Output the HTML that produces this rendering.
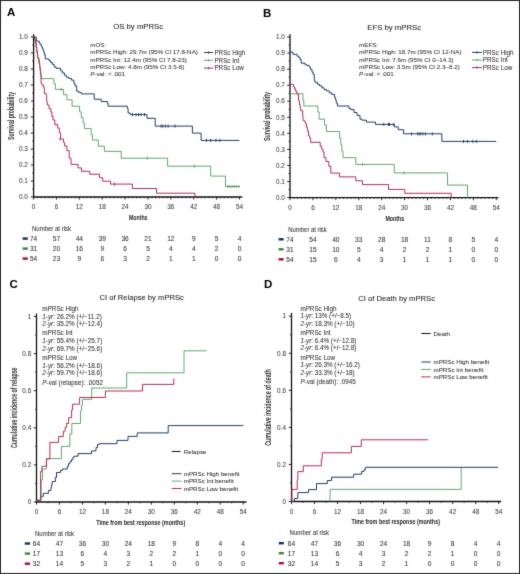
<!DOCTYPE html>
<html><head><meta charset="utf-8"><title>Figure</title>
<style>
html,body{margin:0;padding:0;background:#fff;}
body{width:520px;height:574px;overflow:hidden;}
svg{display:block;transform:translateZ(0);will-change:transform;}
text{font-family:"Liberation Sans", sans-serif;}
</style></head>
<body>
<svg width="520" height="574" viewBox="0 0 520 574" font-family='"Liberation Sans", sans-serif' fill="#333">
<defs><filter id="bl" x="0" y="0" width="520" height="574" filterUnits="userSpaceOnUse" color-interpolation-filters="sRGB"><feConvolveMatrix order="3" kernelMatrix="0.01134 0.08382 0.01134 0.08382 0.61935 0.08382 0.01134 0.08382 0.01134" divisor="1" edgeMode="duplicate"/></filter></defs><rect x="0" y="0" width="520" height="574" fill="#fff"/>
<g filter="url(#bl)">
<rect x="0.5" y="0.5" width="519" height="573" fill="none" stroke="#2a2a2a" stroke-width="1.0"/>
<text x="6.90" y="16.40" font-size="11.5" fill="#000" font-weight="bold">A</text>
<text x="262.90" y="17.00" font-size="11.5" fill="#000" font-weight="bold">B</text>
<text x="9.60" y="287.60" font-size="11.5" fill="#000" font-weight="bold">C</text>
<text x="263.90" y="288.20" font-size="11.5" fill="#000" font-weight="bold">D</text>
<line x1="33.60" y1="34.30" x2="33.60" y2="197.60" stroke="#111" stroke-width="1.3"/>
<line x1="33.00" y1="197.00" x2="242.30" y2="197.00" stroke="#111" stroke-width="1.3"/>
<line x1="30.80" y1="197.00" x2="33.60" y2="197.00" stroke="#111" stroke-width="0.9"/>
<line x1="30.80" y1="181.00" x2="33.60" y2="181.00" stroke="#111" stroke-width="0.9"/>
<line x1="30.80" y1="165.00" x2="33.60" y2="165.00" stroke="#111" stroke-width="0.9"/>
<line x1="30.80" y1="149.00" x2="33.60" y2="149.00" stroke="#111" stroke-width="0.9"/>
<line x1="30.80" y1="133.00" x2="33.60" y2="133.00" stroke="#111" stroke-width="0.9"/>
<line x1="30.80" y1="117.00" x2="33.60" y2="117.00" stroke="#111" stroke-width="0.9"/>
<line x1="30.80" y1="101.00" x2="33.60" y2="101.00" stroke="#111" stroke-width="0.9"/>
<line x1="30.80" y1="85.00" x2="33.60" y2="85.00" stroke="#111" stroke-width="0.9"/>
<line x1="30.80" y1="69.00" x2="33.60" y2="69.00" stroke="#111" stroke-width="0.9"/>
<line x1="30.80" y1="53.00" x2="33.60" y2="53.00" stroke="#111" stroke-width="0.9"/>
<line x1="30.80" y1="37.00" x2="33.60" y2="37.00" stroke="#111" stroke-width="0.9"/>
<line x1="32.20" y1="189.00" x2="33.60" y2="189.00" stroke="#111" stroke-width="0.8"/>
<line x1="32.20" y1="173.00" x2="33.60" y2="173.00" stroke="#111" stroke-width="0.8"/>
<line x1="32.20" y1="157.00" x2="33.60" y2="157.00" stroke="#111" stroke-width="0.8"/>
<line x1="32.20" y1="141.00" x2="33.60" y2="141.00" stroke="#111" stroke-width="0.8"/>
<line x1="32.20" y1="125.00" x2="33.60" y2="125.00" stroke="#111" stroke-width="0.8"/>
<line x1="32.20" y1="109.00" x2="33.60" y2="109.00" stroke="#111" stroke-width="0.8"/>
<line x1="32.20" y1="93.00" x2="33.60" y2="93.00" stroke="#111" stroke-width="0.8"/>
<line x1="32.20" y1="77.00" x2="33.60" y2="77.00" stroke="#111" stroke-width="0.8"/>
<line x1="32.20" y1="61.00" x2="33.60" y2="61.00" stroke="#111" stroke-width="0.8"/>
<line x1="32.20" y1="45.00" x2="33.60" y2="45.00" stroke="#111" stroke-width="0.8"/>
<line x1="33.60" y1="197.00" x2="33.60" y2="199.60" stroke="#111" stroke-width="0.9"/>
<line x1="56.48" y1="197.00" x2="56.48" y2="199.60" stroke="#111" stroke-width="0.9"/>
<line x1="79.36" y1="197.00" x2="79.36" y2="199.60" stroke="#111" stroke-width="0.9"/>
<line x1="102.23" y1="197.00" x2="102.23" y2="199.60" stroke="#111" stroke-width="0.9"/>
<line x1="125.11" y1="197.00" x2="125.11" y2="199.60" stroke="#111" stroke-width="0.9"/>
<line x1="147.99" y1="197.00" x2="147.99" y2="199.60" stroke="#111" stroke-width="0.9"/>
<line x1="170.87" y1="197.00" x2="170.87" y2="199.60" stroke="#111" stroke-width="0.9"/>
<line x1="193.74" y1="197.00" x2="193.74" y2="199.60" stroke="#111" stroke-width="0.9"/>
<line x1="216.62" y1="197.00" x2="216.62" y2="199.60" stroke="#111" stroke-width="0.9"/>
<line x1="239.50" y1="197.00" x2="239.50" y2="199.60" stroke="#111" stroke-width="0.9"/>
<line x1="37.41" y1="197.00" x2="37.41" y2="198.30" stroke="#111" stroke-width="0.8"/>
<line x1="41.23" y1="197.00" x2="41.23" y2="198.30" stroke="#111" stroke-width="0.8"/>
<line x1="45.04" y1="197.00" x2="45.04" y2="198.30" stroke="#111" stroke-width="0.8"/>
<line x1="48.85" y1="197.00" x2="48.85" y2="198.30" stroke="#111" stroke-width="0.8"/>
<line x1="52.66" y1="197.00" x2="52.66" y2="198.30" stroke="#111" stroke-width="0.8"/>
<line x1="60.29" y1="197.00" x2="60.29" y2="198.30" stroke="#111" stroke-width="0.8"/>
<line x1="64.10" y1="197.00" x2="64.10" y2="198.30" stroke="#111" stroke-width="0.8"/>
<line x1="67.92" y1="197.00" x2="67.92" y2="198.30" stroke="#111" stroke-width="0.8"/>
<line x1="71.73" y1="197.00" x2="71.73" y2="198.30" stroke="#111" stroke-width="0.8"/>
<line x1="75.54" y1="197.00" x2="75.54" y2="198.30" stroke="#111" stroke-width="0.8"/>
<line x1="83.17" y1="197.00" x2="83.17" y2="198.30" stroke="#111" stroke-width="0.8"/>
<line x1="86.98" y1="197.00" x2="86.98" y2="198.30" stroke="#111" stroke-width="0.8"/>
<line x1="90.79" y1="197.00" x2="90.79" y2="198.30" stroke="#111" stroke-width="0.8"/>
<line x1="94.61" y1="197.00" x2="94.61" y2="198.30" stroke="#111" stroke-width="0.8"/>
<line x1="98.42" y1="197.00" x2="98.42" y2="198.30" stroke="#111" stroke-width="0.8"/>
<line x1="106.05" y1="197.00" x2="106.05" y2="198.30" stroke="#111" stroke-width="0.8"/>
<line x1="109.86" y1="197.00" x2="109.86" y2="198.30" stroke="#111" stroke-width="0.8"/>
<line x1="113.67" y1="197.00" x2="113.67" y2="198.30" stroke="#111" stroke-width="0.8"/>
<line x1="117.49" y1="197.00" x2="117.49" y2="198.30" stroke="#111" stroke-width="0.8"/>
<line x1="121.30" y1="197.00" x2="121.30" y2="198.30" stroke="#111" stroke-width="0.8"/>
<line x1="128.92" y1="197.00" x2="128.92" y2="198.30" stroke="#111" stroke-width="0.8"/>
<line x1="132.74" y1="197.00" x2="132.74" y2="198.30" stroke="#111" stroke-width="0.8"/>
<line x1="136.55" y1="197.00" x2="136.55" y2="198.30" stroke="#111" stroke-width="0.8"/>
<line x1="140.36" y1="197.00" x2="140.36" y2="198.30" stroke="#111" stroke-width="0.8"/>
<line x1="144.18" y1="197.00" x2="144.18" y2="198.30" stroke="#111" stroke-width="0.8"/>
<line x1="151.80" y1="197.00" x2="151.80" y2="198.30" stroke="#111" stroke-width="0.8"/>
<line x1="155.61" y1="197.00" x2="155.61" y2="198.30" stroke="#111" stroke-width="0.8"/>
<line x1="159.43" y1="197.00" x2="159.43" y2="198.30" stroke="#111" stroke-width="0.8"/>
<line x1="163.24" y1="197.00" x2="163.24" y2="198.30" stroke="#111" stroke-width="0.8"/>
<line x1="167.05" y1="197.00" x2="167.05" y2="198.30" stroke="#111" stroke-width="0.8"/>
<line x1="174.68" y1="197.00" x2="174.68" y2="198.30" stroke="#111" stroke-width="0.8"/>
<line x1="178.49" y1="197.00" x2="178.49" y2="198.30" stroke="#111" stroke-width="0.8"/>
<line x1="182.31" y1="197.00" x2="182.31" y2="198.30" stroke="#111" stroke-width="0.8"/>
<line x1="186.12" y1="197.00" x2="186.12" y2="198.30" stroke="#111" stroke-width="0.8"/>
<line x1="189.93" y1="197.00" x2="189.93" y2="198.30" stroke="#111" stroke-width="0.8"/>
<line x1="197.56" y1="197.00" x2="197.56" y2="198.30" stroke="#111" stroke-width="0.8"/>
<line x1="201.37" y1="197.00" x2="201.37" y2="198.30" stroke="#111" stroke-width="0.8"/>
<line x1="205.18" y1="197.00" x2="205.18" y2="198.30" stroke="#111" stroke-width="0.8"/>
<line x1="209.00" y1="197.00" x2="209.00" y2="198.30" stroke="#111" stroke-width="0.8"/>
<line x1="212.81" y1="197.00" x2="212.81" y2="198.30" stroke="#111" stroke-width="0.8"/>
<line x1="220.44" y1="197.00" x2="220.44" y2="198.30" stroke="#111" stroke-width="0.8"/>
<line x1="224.25" y1="197.00" x2="224.25" y2="198.30" stroke="#111" stroke-width="0.8"/>
<line x1="228.06" y1="197.00" x2="228.06" y2="198.30" stroke="#111" stroke-width="0.8"/>
<line x1="231.87" y1="197.00" x2="231.87" y2="198.30" stroke="#111" stroke-width="0.8"/>
<line x1="235.69" y1="197.00" x2="235.69" y2="198.30" stroke="#111" stroke-width="0.8"/>
<text x="27.90" y="199.24" font-size="6.4" text-anchor="end" fill="#3c3c3c" stroke="#3c3c3c" stroke-width="0.06">0.0</text>
<text x="27.90" y="183.24" font-size="6.4" text-anchor="end" fill="#3c3c3c" stroke="#3c3c3c" stroke-width="0.06">0.1</text>
<text x="27.90" y="167.24" font-size="6.4" text-anchor="end" fill="#3c3c3c" stroke="#3c3c3c" stroke-width="0.06">0.2</text>
<text x="27.90" y="151.24" font-size="6.4" text-anchor="end" fill="#3c3c3c" stroke="#3c3c3c" stroke-width="0.06">0.3</text>
<text x="27.90" y="135.24" font-size="6.4" text-anchor="end" fill="#3c3c3c" stroke="#3c3c3c" stroke-width="0.06">0.4</text>
<text x="27.90" y="119.24" font-size="6.4" text-anchor="end" fill="#3c3c3c" stroke="#3c3c3c" stroke-width="0.06">0.5</text>
<text x="27.90" y="103.24" font-size="6.4" text-anchor="end" fill="#3c3c3c" stroke="#3c3c3c" stroke-width="0.06">0.6</text>
<text x="27.90" y="87.24" font-size="6.4" text-anchor="end" fill="#3c3c3c" stroke="#3c3c3c" stroke-width="0.06">0.7</text>
<text x="27.90" y="71.24" font-size="6.4" text-anchor="end" fill="#3c3c3c" stroke="#3c3c3c" stroke-width="0.06">0.8</text>
<text x="27.90" y="55.24" font-size="6.4" text-anchor="end" fill="#3c3c3c" stroke="#3c3c3c" stroke-width="0.06">0.9</text>
<text x="27.90" y="39.24" font-size="6.4" text-anchor="end" fill="#3c3c3c" stroke="#3c3c3c" stroke-width="0.06">1.0</text>
<text x="33.60" y="208.80" font-size="6.4" text-anchor="middle" fill="#3c3c3c" stroke="#3c3c3c" stroke-width="0.06">0</text>
<text x="56.48" y="208.80" font-size="6.4" text-anchor="middle" fill="#3c3c3c" stroke="#3c3c3c" stroke-width="0.06">6</text>
<text x="79.36" y="208.80" font-size="6.4" text-anchor="middle" fill="#3c3c3c" stroke="#3c3c3c" stroke-width="0.06">12</text>
<text x="102.23" y="208.80" font-size="6.4" text-anchor="middle" fill="#3c3c3c" stroke="#3c3c3c" stroke-width="0.06">18</text>
<text x="125.11" y="208.80" font-size="6.4" text-anchor="middle" fill="#3c3c3c" stroke="#3c3c3c" stroke-width="0.06">24</text>
<text x="147.99" y="208.80" font-size="6.4" text-anchor="middle" fill="#3c3c3c" stroke="#3c3c3c" stroke-width="0.06">30</text>
<text x="170.87" y="208.80" font-size="6.4" text-anchor="middle" fill="#3c3c3c" stroke="#3c3c3c" stroke-width="0.06">36</text>
<text x="193.74" y="208.80" font-size="6.4" text-anchor="middle" fill="#3c3c3c" stroke="#3c3c3c" stroke-width="0.06">42</text>
<text x="216.62" y="208.80" font-size="6.4" text-anchor="middle" fill="#3c3c3c" stroke="#3c3c3c" stroke-width="0.06">48</text>
<text x="239.50" y="208.80" font-size="6.4" text-anchor="middle" fill="#3c3c3c" stroke="#3c3c3c" stroke-width="0.06">54</text>
<text x="138.20" y="29.40" font-size="7.75" text-anchor="middle" fill="#222" stroke="#222" stroke-width="0.06">OS by mPRSc</text>
<text x="0.00" y="0.00" font-size="8.2" text-anchor="middle" font-weight="bold" textLength="48" lengthAdjust="spacingAndGlyphs" transform="translate(13.6,115.9) rotate(-90)">Survival probability</text>
<text x="138.20" y="220.20" font-size="8" text-anchor="middle" fill="#222" font-weight="bold" textLength="18.6" lengthAdjust="spacingAndGlyphs">Months</text>
<text x="90.20" y="47.00" font-size="6.25" stroke="#333" stroke-width="0.06"><tspan font-style="italic">m</tspan>OS:</text>
<text x="90.20" y="54.35" font-size="6.25" stroke="#333" stroke-width="0.06"><tspan font-style="italic">m</tspan>PRSc High: 29.7m (95% CI 17.8-NA)</text>
<text x="90.20" y="61.70" font-size="6.25" stroke="#333" stroke-width="0.06"><tspan font-style="italic">m</tspan>PRSc Int: 12.4m (95% CI 7.8-23)</text>
<text x="90.20" y="69.05" font-size="6.25" stroke="#333" stroke-width="0.06"><tspan font-style="italic">m</tspan>PRSc Low: 4.8m (95% CI 3.5-8)</text>
<text x="90.20" y="76.40" font-size="6.25" stroke="#333" stroke-width="0.06"><tspan font-style="italic">P</tspan>-val: &lt;&#8201;.001</text>
<line x1="203.80" y1="52.50" x2="213.20" y2="52.50" stroke="#1e3d70" stroke-width="1.0"/>
<line x1="208.50" y1="51.30" x2="208.50" y2="53.70" stroke="#1e3d70" stroke-width="0.9"/>
<text x="214.40" y="54.75" font-size="6.3" stroke="#333" stroke-width="0.06">PRSc High</text>
<line x1="203.80" y1="60.30" x2="213.20" y2="60.30" stroke="#5aab6a" stroke-width="1.0"/>
<line x1="208.50" y1="59.10" x2="208.50" y2="61.50" stroke="#5aab6a" stroke-width="0.9"/>
<text x="214.40" y="62.55" font-size="6.3" stroke="#333" stroke-width="0.06">PRSc Int</text>
<line x1="203.80" y1="68.10" x2="213.20" y2="68.10" stroke="#bb2a52" stroke-width="1.0"/>
<line x1="208.50" y1="66.90" x2="208.50" y2="69.30" stroke="#bb2a52" stroke-width="0.9"/>
<text x="214.40" y="70.35" font-size="6.3" stroke="#333" stroke-width="0.06">PRSc Low</text>
<path d="M33.60 37.00 L34.80 37.00 L34.80 42.20 L35.80 42.20 L35.80 47.40 L36.60 47.40 L36.60 52.60 L37.40 52.60 L37.40 57.80 L38.60 57.80 L38.60 63.00 L39.60 63.00 L39.60 68.20 L40.40 68.20 L40.40 73.40 L41.00 73.40 L41.00 78.60 L53.90 78.60 L53.90 83.70 L55.40 83.70 L55.40 89.40 L63.50 89.40 L63.50 94.60 L66.90 94.60 L66.90 99.80 L72.10 99.80 L72.10 106.20 L79.60 106.20 L79.60 111.90 L81.30 111.90 L81.30 117.70 L83.10 117.70 L83.10 122.90 L84.40 122.90 L84.40 128.60 L91.20 128.60 L91.20 134.60 L92.40 134.60 L92.40 140.00 L98.30 140.00 L98.30 146.20 L104.40 146.20 L104.40 151.40 L121.20 151.40 L121.20 158.20 L167.60 158.20 L167.60 166.20 L210.70 166.20 L210.70 176.10 L225.50 176.10 L225.50 186.50 L239.40 186.50" fill="none" stroke="#5aab6a" stroke-width="1.0" stroke-linejoin="miter"/>
<path d="M33.60 37.00 L34.60 37.00 L34.60 39.50 L35.50 39.50 L35.50 42.70 L36.30 42.70 L36.30 47.00 L36.80 47.00 L36.80 51.40 L37.50 51.40 L37.50 55.00 L37.80 55.00 L37.80 58.30 L39.00 58.30 L39.00 60.00 L39.30 60.00 L39.30 63.20 L39.80 63.20 L39.80 67.00 L40.20 67.00 L40.20 71.00 L40.70 71.00 L40.70 74.90 L41.10 74.90 L41.10 83.70 L42.10 83.70 L42.10 85.40 L43.80 85.40 L43.80 87.70 L44.40 87.70 L44.40 93.50 L46.20 93.50 L46.20 95.20 L46.70 95.20 L46.70 101.50 L47.30 101.50 L47.30 105.00 L49.00 105.00 L49.00 108.50 L50.80 108.50 L50.80 111.90 L51.90 111.90 L51.90 116.50 L53.00 116.50 L53.00 120.00 L54.80 120.00 L54.80 124.60 L57.70 124.60 L57.70 128.10 L59.40 128.10 L59.40 132.70 L60.60 132.70 L60.60 139.00 L63.50 139.00 L63.50 142.50 L64.60 142.50 L64.60 146.00 L66.90 146.00 L66.90 150.60 L69.20 150.60 L69.20 158.10 L71.00 158.10 L71.00 164.40 L78.00 164.40 L78.00 167.90 L81.50 167.90 L81.50 171.30 L89.70 171.30 L89.70 174.20 L99.50 174.20 L99.50 177.70 L102.70 177.70 L102.70 181.20 L110.50 181.20 L110.50 184.10 L132.40 184.10 L132.40 188.50 L156.50 188.50 L156.50 193.20 L195.00 193.20 L195.00 197.00" fill="none" stroke="#bb2a52" stroke-width="1.0" stroke-linejoin="miter"/>
<path d="M33.60 37.00 L36.30 37.00 L36.30 41.10 L39.20 41.10 L39.20 43.10 L40.10 43.10 L40.10 44.50 L41.30 44.50 L41.30 46.80 L42.40 46.80 L42.40 49.20 L43.60 49.20 L43.60 52.00 L44.40 52.00 L44.40 54.90 L45.30 54.90 L45.30 59.00 L49.00 59.00 L49.00 60.70 L50.50 60.70 L50.50 62.40 L52.30 62.40 L52.30 64.30 L54.20 64.30 L54.20 67.00 L56.00 67.00 L56.00 68.30 L60.60 68.30 L60.60 70.70 L62.30 70.70 L62.30 73.00 L64.60 73.00 L64.60 75.30 L66.30 75.30 L66.30 77.20 L68.70 77.20 L68.70 78.40 L71.50 78.40 L71.50 80.10 L73.80 80.10 L73.80 83.10 L75.00 83.10 L75.00 86.00 L76.70 86.00 L76.70 91.20 L78.50 91.20 L78.50 92.30 L81.30 92.30 L81.30 93.90 L94.20 93.90 L94.20 99.20 L101.20 99.20 L101.20 101.50 L107.30 101.50 L107.30 103.00 L108.10 103.00 L108.10 106.20 L127.30 106.20 L127.30 108.50 L128.10 108.50 L128.10 113.10 L130.40 113.10 L130.40 114.60 L147.00 114.60 L147.00 118.30 L155.20 118.30 L155.20 126.10 L192.40 126.10 L192.40 133.10 L201.10 133.10 L201.10 140.40 L239.40 140.40" fill="none" stroke="#1e3d70" stroke-width="1.0" stroke-linejoin="miter"/>
<line x1="132.50" y1="113.00" x2="132.50" y2="116.20" stroke="#1e3d70" stroke-width="0.9"/>
<line x1="136.00" y1="113.00" x2="136.00" y2="116.20" stroke="#1e3d70" stroke-width="0.9"/>
<line x1="138.50" y1="113.00" x2="138.50" y2="116.20" stroke="#1e3d70" stroke-width="0.9"/>
<line x1="141.00" y1="113.00" x2="141.00" y2="116.20" stroke="#1e3d70" stroke-width="0.9"/>
<line x1="144.50" y1="113.00" x2="144.50" y2="116.20" stroke="#1e3d70" stroke-width="0.9"/>
<line x1="161.10" y1="124.50" x2="161.10" y2="127.70" stroke="#1e3d70" stroke-width="0.9"/>
<line x1="162.80" y1="124.50" x2="162.80" y2="127.70" stroke="#1e3d70" stroke-width="0.9"/>
<line x1="165.40" y1="124.50" x2="165.40" y2="127.70" stroke="#1e3d70" stroke-width="0.9"/>
<line x1="168.10" y1="124.50" x2="168.10" y2="127.70" stroke="#1e3d70" stroke-width="0.9"/>
<line x1="175.00" y1="124.50" x2="175.00" y2="127.70" stroke="#1e3d70" stroke-width="0.9"/>
<line x1="206.40" y1="138.80" x2="206.40" y2="142.00" stroke="#1e3d70" stroke-width="0.9"/>
<line x1="210.70" y1="138.80" x2="210.70" y2="142.00" stroke="#1e3d70" stroke-width="0.9"/>
<line x1="215.90" y1="138.80" x2="215.90" y2="142.00" stroke="#1e3d70" stroke-width="0.9"/>
<line x1="219.80" y1="138.80" x2="219.80" y2="142.00" stroke="#1e3d70" stroke-width="0.9"/>
<line x1="61.20" y1="87.80" x2="61.20" y2="91.00" stroke="#5aab6a" stroke-width="0.9"/>
<line x1="147.30" y1="156.60" x2="147.30" y2="159.80" stroke="#5aab6a" stroke-width="0.9"/>
<line x1="194.20" y1="164.60" x2="194.20" y2="167.80" stroke="#5aab6a" stroke-width="0.9"/>
<line x1="227.50" y1="185.30" x2="227.50" y2="187.70" stroke="#338a3c" stroke-width="0.9"/>
<line x1="229.80" y1="185.30" x2="229.80" y2="187.70" stroke="#338a3c" stroke-width="0.9"/>
<line x1="232.10" y1="185.30" x2="232.10" y2="187.70" stroke="#338a3c" stroke-width="0.9"/>
<line x1="234.40" y1="185.30" x2="234.40" y2="187.70" stroke="#338a3c" stroke-width="0.9"/>
<line x1="236.70" y1="185.30" x2="236.70" y2="187.70" stroke="#338a3c" stroke-width="0.9"/>
<line x1="239.00" y1="185.30" x2="239.00" y2="187.70" stroke="#338a3c" stroke-width="0.9"/>
<line x1="60.00" y1="137.40" x2="60.00" y2="140.60" stroke="#bb2a52" stroke-width="0.9"/>
<line x1="114.50" y1="182.50" x2="114.50" y2="185.70" stroke="#bb2a52" stroke-width="0.9"/>
<text x="32.00" y="231.00" font-size="6.4" textLength="39.0" lengthAdjust="spacingAndGlyphs" stroke="#333" stroke-width="0.06">Number at risk</text>
<rect x="22.6" y="237.40" width="5.2" height="2.4" fill="#13315f"/>
<text x="33.60" y="241.00" font-size="6.6" text-anchor="middle" stroke="#333" stroke-width="0.06">74</text>
<text x="56.48" y="241.00" font-size="6.6" text-anchor="middle" stroke="#333" stroke-width="0.06">57</text>
<text x="79.36" y="241.00" font-size="6.6" text-anchor="middle" stroke="#333" stroke-width="0.06">44</text>
<text x="102.23" y="241.00" font-size="6.6" text-anchor="middle" stroke="#333" stroke-width="0.06">39</text>
<text x="125.11" y="241.00" font-size="6.6" text-anchor="middle" stroke="#333" stroke-width="0.06">36</text>
<text x="147.99" y="241.00" font-size="6.6" text-anchor="middle" stroke="#333" stroke-width="0.06">21</text>
<text x="170.87" y="241.00" font-size="6.6" text-anchor="middle" stroke="#333" stroke-width="0.06">12</text>
<text x="193.74" y="241.00" font-size="6.6" text-anchor="middle" stroke="#333" stroke-width="0.06">9</text>
<text x="216.62" y="241.00" font-size="6.6" text-anchor="middle" stroke="#333" stroke-width="0.06">5</text>
<text x="239.50" y="241.00" font-size="6.6" text-anchor="middle" stroke="#333" stroke-width="0.06">4</text>
<rect x="22.6" y="247.40" width="5.2" height="2.4" fill="#338a3c"/>
<text x="33.60" y="251.00" font-size="6.6" text-anchor="middle" stroke="#333" stroke-width="0.06">31</text>
<text x="56.48" y="251.00" font-size="6.6" text-anchor="middle" stroke="#333" stroke-width="0.06">20</text>
<text x="79.36" y="251.00" font-size="6.6" text-anchor="middle" stroke="#333" stroke-width="0.06">16</text>
<text x="102.23" y="251.00" font-size="6.6" text-anchor="middle" stroke="#333" stroke-width="0.06">9</text>
<text x="125.11" y="251.00" font-size="6.6" text-anchor="middle" stroke="#333" stroke-width="0.06">6</text>
<text x="147.99" y="251.00" font-size="6.6" text-anchor="middle" stroke="#333" stroke-width="0.06">5</text>
<text x="170.87" y="251.00" font-size="6.6" text-anchor="middle" stroke="#333" stroke-width="0.06">4</text>
<text x="193.74" y="251.00" font-size="6.6" text-anchor="middle" stroke="#333" stroke-width="0.06">4</text>
<text x="216.62" y="251.00" font-size="6.6" text-anchor="middle" stroke="#333" stroke-width="0.06">2</text>
<text x="239.50" y="251.00" font-size="6.6" text-anchor="middle" stroke="#333" stroke-width="0.06">0</text>
<rect x="22.6" y="257.40" width="5.2" height="2.4" fill="#a50f2d"/>
<text x="33.60" y="261.00" font-size="6.6" text-anchor="middle" stroke="#333" stroke-width="0.06">54</text>
<text x="56.48" y="261.00" font-size="6.6" text-anchor="middle" stroke="#333" stroke-width="0.06">23</text>
<text x="79.36" y="261.00" font-size="6.6" text-anchor="middle" stroke="#333" stroke-width="0.06">9</text>
<text x="102.23" y="261.00" font-size="6.6" text-anchor="middle" stroke="#333" stroke-width="0.06">6</text>
<text x="125.11" y="261.00" font-size="6.6" text-anchor="middle" stroke="#333" stroke-width="0.06">3</text>
<text x="147.99" y="261.00" font-size="6.6" text-anchor="middle" stroke="#333" stroke-width="0.06">2</text>
<text x="170.87" y="261.00" font-size="6.6" text-anchor="middle" stroke="#333" stroke-width="0.06">1</text>
<text x="193.74" y="261.00" font-size="6.6" text-anchor="middle" stroke="#333" stroke-width="0.06">1</text>
<text x="216.62" y="261.00" font-size="6.6" text-anchor="middle" stroke="#333" stroke-width="0.06">0</text>
<text x="239.50" y="261.00" font-size="6.6" text-anchor="middle" stroke="#333" stroke-width="0.06">0</text>
<line x1="290.00" y1="34.20" x2="290.00" y2="198.20" stroke="#111" stroke-width="1.3"/>
<line x1="289.40" y1="197.60" x2="498.50" y2="197.60" stroke="#111" stroke-width="1.3"/>
<line x1="287.20" y1="197.60" x2="290.00" y2="197.60" stroke="#111" stroke-width="0.9"/>
<line x1="287.20" y1="181.54" x2="290.00" y2="181.54" stroke="#111" stroke-width="0.9"/>
<line x1="287.20" y1="165.48" x2="290.00" y2="165.48" stroke="#111" stroke-width="0.9"/>
<line x1="287.20" y1="149.42" x2="290.00" y2="149.42" stroke="#111" stroke-width="0.9"/>
<line x1="287.20" y1="133.36" x2="290.00" y2="133.36" stroke="#111" stroke-width="0.9"/>
<line x1="287.20" y1="117.30" x2="290.00" y2="117.30" stroke="#111" stroke-width="0.9"/>
<line x1="287.20" y1="101.24" x2="290.00" y2="101.24" stroke="#111" stroke-width="0.9"/>
<line x1="287.20" y1="85.18" x2="290.00" y2="85.18" stroke="#111" stroke-width="0.9"/>
<line x1="287.20" y1="69.12" x2="290.00" y2="69.12" stroke="#111" stroke-width="0.9"/>
<line x1="287.20" y1="53.06" x2="290.00" y2="53.06" stroke="#111" stroke-width="0.9"/>
<line x1="287.20" y1="37.00" x2="290.00" y2="37.00" stroke="#111" stroke-width="0.9"/>
<line x1="288.60" y1="189.57" x2="290.00" y2="189.57" stroke="#111" stroke-width="0.8"/>
<line x1="288.60" y1="173.51" x2="290.00" y2="173.51" stroke="#111" stroke-width="0.8"/>
<line x1="288.60" y1="157.45" x2="290.00" y2="157.45" stroke="#111" stroke-width="0.8"/>
<line x1="288.60" y1="141.39" x2="290.00" y2="141.39" stroke="#111" stroke-width="0.8"/>
<line x1="288.60" y1="125.33" x2="290.00" y2="125.33" stroke="#111" stroke-width="0.8"/>
<line x1="288.60" y1="109.27" x2="290.00" y2="109.27" stroke="#111" stroke-width="0.8"/>
<line x1="288.60" y1="93.21" x2="290.00" y2="93.21" stroke="#111" stroke-width="0.8"/>
<line x1="288.60" y1="77.15" x2="290.00" y2="77.15" stroke="#111" stroke-width="0.8"/>
<line x1="288.60" y1="61.09" x2="290.00" y2="61.09" stroke="#111" stroke-width="0.8"/>
<line x1="288.60" y1="45.03" x2="290.00" y2="45.03" stroke="#111" stroke-width="0.8"/>
<line x1="290.00" y1="197.60" x2="290.00" y2="200.20" stroke="#111" stroke-width="0.9"/>
<line x1="312.92" y1="197.60" x2="312.92" y2="200.20" stroke="#111" stroke-width="0.9"/>
<line x1="335.84" y1="197.60" x2="335.84" y2="200.20" stroke="#111" stroke-width="0.9"/>
<line x1="358.77" y1="197.60" x2="358.77" y2="200.20" stroke="#111" stroke-width="0.9"/>
<line x1="381.69" y1="197.60" x2="381.69" y2="200.20" stroke="#111" stroke-width="0.9"/>
<line x1="404.61" y1="197.60" x2="404.61" y2="200.20" stroke="#111" stroke-width="0.9"/>
<line x1="427.53" y1="197.60" x2="427.53" y2="200.20" stroke="#111" stroke-width="0.9"/>
<line x1="450.46" y1="197.60" x2="450.46" y2="200.20" stroke="#111" stroke-width="0.9"/>
<line x1="473.38" y1="197.60" x2="473.38" y2="200.20" stroke="#111" stroke-width="0.9"/>
<line x1="496.30" y1="197.60" x2="496.30" y2="200.20" stroke="#111" stroke-width="0.9"/>
<line x1="293.82" y1="197.60" x2="293.82" y2="198.90" stroke="#111" stroke-width="0.8"/>
<line x1="297.64" y1="197.60" x2="297.64" y2="198.90" stroke="#111" stroke-width="0.8"/>
<line x1="301.46" y1="197.60" x2="301.46" y2="198.90" stroke="#111" stroke-width="0.8"/>
<line x1="305.28" y1="197.60" x2="305.28" y2="198.90" stroke="#111" stroke-width="0.8"/>
<line x1="309.10" y1="197.60" x2="309.10" y2="198.90" stroke="#111" stroke-width="0.8"/>
<line x1="316.74" y1="197.60" x2="316.74" y2="198.90" stroke="#111" stroke-width="0.8"/>
<line x1="320.56" y1="197.60" x2="320.56" y2="198.90" stroke="#111" stroke-width="0.8"/>
<line x1="324.38" y1="197.60" x2="324.38" y2="198.90" stroke="#111" stroke-width="0.8"/>
<line x1="328.20" y1="197.60" x2="328.20" y2="198.90" stroke="#111" stroke-width="0.8"/>
<line x1="332.02" y1="197.60" x2="332.02" y2="198.90" stroke="#111" stroke-width="0.8"/>
<line x1="339.66" y1="197.60" x2="339.66" y2="198.90" stroke="#111" stroke-width="0.8"/>
<line x1="343.49" y1="197.60" x2="343.49" y2="198.90" stroke="#111" stroke-width="0.8"/>
<line x1="347.31" y1="197.60" x2="347.31" y2="198.90" stroke="#111" stroke-width="0.8"/>
<line x1="351.13" y1="197.60" x2="351.13" y2="198.90" stroke="#111" stroke-width="0.8"/>
<line x1="354.95" y1="197.60" x2="354.95" y2="198.90" stroke="#111" stroke-width="0.8"/>
<line x1="362.59" y1="197.60" x2="362.59" y2="198.90" stroke="#111" stroke-width="0.8"/>
<line x1="366.41" y1="197.60" x2="366.41" y2="198.90" stroke="#111" stroke-width="0.8"/>
<line x1="370.23" y1="197.60" x2="370.23" y2="198.90" stroke="#111" stroke-width="0.8"/>
<line x1="374.05" y1="197.60" x2="374.05" y2="198.90" stroke="#111" stroke-width="0.8"/>
<line x1="377.87" y1="197.60" x2="377.87" y2="198.90" stroke="#111" stroke-width="0.8"/>
<line x1="385.51" y1="197.60" x2="385.51" y2="198.90" stroke="#111" stroke-width="0.8"/>
<line x1="389.33" y1="197.60" x2="389.33" y2="198.90" stroke="#111" stroke-width="0.8"/>
<line x1="393.15" y1="197.60" x2="393.15" y2="198.90" stroke="#111" stroke-width="0.8"/>
<line x1="396.97" y1="197.60" x2="396.97" y2="198.90" stroke="#111" stroke-width="0.8"/>
<line x1="400.79" y1="197.60" x2="400.79" y2="198.90" stroke="#111" stroke-width="0.8"/>
<line x1="408.43" y1="197.60" x2="408.43" y2="198.90" stroke="#111" stroke-width="0.8"/>
<line x1="412.25" y1="197.60" x2="412.25" y2="198.90" stroke="#111" stroke-width="0.8"/>
<line x1="416.07" y1="197.60" x2="416.07" y2="198.90" stroke="#111" stroke-width="0.8"/>
<line x1="419.89" y1="197.60" x2="419.89" y2="198.90" stroke="#111" stroke-width="0.8"/>
<line x1="423.71" y1="197.60" x2="423.71" y2="198.90" stroke="#111" stroke-width="0.8"/>
<line x1="431.35" y1="197.60" x2="431.35" y2="198.90" stroke="#111" stroke-width="0.8"/>
<line x1="435.17" y1="197.60" x2="435.17" y2="198.90" stroke="#111" stroke-width="0.8"/>
<line x1="438.99" y1="197.60" x2="438.99" y2="198.90" stroke="#111" stroke-width="0.8"/>
<line x1="442.81" y1="197.60" x2="442.81" y2="198.90" stroke="#111" stroke-width="0.8"/>
<line x1="446.64" y1="197.60" x2="446.64" y2="198.90" stroke="#111" stroke-width="0.8"/>
<line x1="454.28" y1="197.60" x2="454.28" y2="198.90" stroke="#111" stroke-width="0.8"/>
<line x1="458.10" y1="197.60" x2="458.10" y2="198.90" stroke="#111" stroke-width="0.8"/>
<line x1="461.92" y1="197.60" x2="461.92" y2="198.90" stroke="#111" stroke-width="0.8"/>
<line x1="465.74" y1="197.60" x2="465.74" y2="198.90" stroke="#111" stroke-width="0.8"/>
<line x1="469.56" y1="197.60" x2="469.56" y2="198.90" stroke="#111" stroke-width="0.8"/>
<line x1="477.20" y1="197.60" x2="477.20" y2="198.90" stroke="#111" stroke-width="0.8"/>
<line x1="481.02" y1="197.60" x2="481.02" y2="198.90" stroke="#111" stroke-width="0.8"/>
<line x1="484.84" y1="197.60" x2="484.84" y2="198.90" stroke="#111" stroke-width="0.8"/>
<line x1="488.66" y1="197.60" x2="488.66" y2="198.90" stroke="#111" stroke-width="0.8"/>
<line x1="492.48" y1="197.60" x2="492.48" y2="198.90" stroke="#111" stroke-width="0.8"/>
<text x="284.80" y="199.84" font-size="6.4" text-anchor="end" fill="#3c3c3c" stroke="#3c3c3c" stroke-width="0.06">0.0</text>
<text x="284.80" y="183.78" font-size="6.4" text-anchor="end" fill="#3c3c3c" stroke="#3c3c3c" stroke-width="0.06">0.1</text>
<text x="284.80" y="167.72" font-size="6.4" text-anchor="end" fill="#3c3c3c" stroke="#3c3c3c" stroke-width="0.06">0.2</text>
<text x="284.80" y="151.66" font-size="6.4" text-anchor="end" fill="#3c3c3c" stroke="#3c3c3c" stroke-width="0.06">0.3</text>
<text x="284.80" y="135.60" font-size="6.4" text-anchor="end" fill="#3c3c3c" stroke="#3c3c3c" stroke-width="0.06">0.4</text>
<text x="284.80" y="119.54" font-size="6.4" text-anchor="end" fill="#3c3c3c" stroke="#3c3c3c" stroke-width="0.06">0.5</text>
<text x="284.80" y="103.48" font-size="6.4" text-anchor="end" fill="#3c3c3c" stroke="#3c3c3c" stroke-width="0.06">0.6</text>
<text x="284.80" y="87.42" font-size="6.4" text-anchor="end" fill="#3c3c3c" stroke="#3c3c3c" stroke-width="0.06">0.7</text>
<text x="284.80" y="71.36" font-size="6.4" text-anchor="end" fill="#3c3c3c" stroke="#3c3c3c" stroke-width="0.06">0.8</text>
<text x="284.80" y="55.30" font-size="6.4" text-anchor="end" fill="#3c3c3c" stroke="#3c3c3c" stroke-width="0.06">0.9</text>
<text x="284.80" y="39.24" font-size="6.4" text-anchor="end" fill="#3c3c3c" stroke="#3c3c3c" stroke-width="0.06">1.0</text>
<text x="290.00" y="209.60" font-size="6.4" text-anchor="middle" fill="#3c3c3c" stroke="#3c3c3c" stroke-width="0.06">0</text>
<text x="312.92" y="209.60" font-size="6.4" text-anchor="middle" fill="#3c3c3c" stroke="#3c3c3c" stroke-width="0.06">6</text>
<text x="335.84" y="209.60" font-size="6.4" text-anchor="middle" fill="#3c3c3c" stroke="#3c3c3c" stroke-width="0.06">12</text>
<text x="358.77" y="209.60" font-size="6.4" text-anchor="middle" fill="#3c3c3c" stroke="#3c3c3c" stroke-width="0.06">18</text>
<text x="381.69" y="209.60" font-size="6.4" text-anchor="middle" fill="#3c3c3c" stroke="#3c3c3c" stroke-width="0.06">24</text>
<text x="404.61" y="209.60" font-size="6.4" text-anchor="middle" fill="#3c3c3c" stroke="#3c3c3c" stroke-width="0.06">30</text>
<text x="427.53" y="209.60" font-size="6.4" text-anchor="middle" fill="#3c3c3c" stroke="#3c3c3c" stroke-width="0.06">36</text>
<text x="450.46" y="209.60" font-size="6.4" text-anchor="middle" fill="#3c3c3c" stroke="#3c3c3c" stroke-width="0.06">42</text>
<text x="473.38" y="209.60" font-size="6.4" text-anchor="middle" fill="#3c3c3c" stroke="#3c3c3c" stroke-width="0.06">48</text>
<text x="496.30" y="209.60" font-size="6.4" text-anchor="middle" fill="#3c3c3c" stroke="#3c3c3c" stroke-width="0.06">54</text>
<text x="394.20" y="30.00" font-size="7.75" text-anchor="middle" fill="#222" stroke="#222" stroke-width="0.06">EFS by mPRSc</text>
<text x="0.00" y="0.00" font-size="8.2" text-anchor="middle" font-weight="bold" textLength="49" lengthAdjust="spacingAndGlyphs" transform="translate(269.8,116.6) rotate(-90)">Survival probability</text>
<text x="394.80" y="220.80" font-size="8" text-anchor="middle" fill="#222" font-weight="bold" textLength="18.8" lengthAdjust="spacingAndGlyphs">Months</text>
<text x="359.00" y="47.00" font-size="6.25" stroke="#333" stroke-width="0.06"><tspan font-style="italic">m</tspan>EFS:</text>
<text x="359.00" y="54.35" font-size="6.25" stroke="#333" stroke-width="0.06"><tspan font-style="italic">m</tspan>PRSc High: 18.7m (95% CI 12-NA)</text>
<text x="359.00" y="61.70" font-size="6.25" stroke="#333" stroke-width="0.06"><tspan font-style="italic">m</tspan>PRSc Int: 7.6m (95% CI 0–14.3)</text>
<text x="359.00" y="69.05" font-size="6.25" stroke="#333" stroke-width="0.06"><tspan font-style="italic">m</tspan>PRSc Low: 3.5m (95% CI 2.3–8.2)</text>
<text x="359.00" y="76.40" font-size="6.25" stroke="#333" stroke-width="0.06"><tspan font-style="italic">P</tspan>-val: &lt;&#8201;.001</text>
<line x1="472.00" y1="52.40" x2="482.00" y2="52.40" stroke="#1e3d70" stroke-width="1.0"/>
<line x1="477.00" y1="51.20" x2="477.00" y2="53.60" stroke="#1e3d70" stroke-width="0.9"/>
<text x="482.80" y="54.65" font-size="6.3" stroke="#333" stroke-width="0.06">PRSc High</text>
<line x1="472.00" y1="60.00" x2="482.00" y2="60.00" stroke="#5aab6a" stroke-width="1.0"/>
<line x1="477.00" y1="58.80" x2="477.00" y2="61.20" stroke="#5aab6a" stroke-width="0.9"/>
<text x="482.80" y="62.25" font-size="6.3" stroke="#333" stroke-width="0.06">PRSc Int</text>
<line x1="472.00" y1="67.60" x2="482.00" y2="67.60" stroke="#bb2a52" stroke-width="1.0"/>
<line x1="477.00" y1="66.40" x2="477.00" y2="68.80" stroke="#bb2a52" stroke-width="0.9"/>
<text x="482.80" y="69.85" font-size="6.3" stroke="#333" stroke-width="0.06">PRSc Low</text>
<path d="M290.00 93.80 L302.90 93.80 L302.90 100.00 L303.80 100.00 L303.80 106.00 L317.80 106.00 L317.80 112.00 L319.20 112.00 L319.20 119.20 L324.50 119.20 L324.50 125.00 L326.50 125.00 L326.50 131.50 L339.60 131.50 L339.60 138.30 L340.80 138.30 L340.80 144.50 L341.80 144.50 L341.80 151.00 L343.00 151.00 L343.00 157.70 L355.80 157.70 L355.80 164.40 L394.20 164.40 L394.20 172.90 L447.50 172.90 L447.50 185.10 L467.50 185.10 L467.50 197.60" fill="none" stroke="#5aab6a" stroke-width="1.0" stroke-linejoin="miter"/>
<path d="M290.00 84.40 L293.50 84.40 L293.50 86.50 L294.50 86.50 L294.50 88.70 L295.50 88.70 L295.50 91.00 L296.80 91.00 L296.80 93.30 L297.80 93.30 L297.80 95.00 L298.50 95.00 L298.50 100.80 L299.50 100.80 L299.50 104.80 L300.20 104.80 L300.20 108.30 L300.70 108.30 L300.70 110.60 L302.70 110.60 L302.70 115.00 L303.00 115.00 L303.00 120.40 L304.50 120.40 L304.50 121.50 L305.50 121.50 L305.50 123.80 L306.50 123.80 L306.50 127.30 L307.50 127.30 L307.50 131.00 L308.50 131.00 L308.50 135.60 L309.50 135.60 L309.50 138.00 L310.60 138.00 L310.60 142.30 L320.20 142.30 L320.20 146.20 L321.50 146.20 L321.50 149.00 L323.00 149.00 L323.00 151.90 L324.00 151.90 L324.00 157.70 L326.00 157.70 L326.00 161.50 L328.80 161.50 L328.80 166.30 L330.80 166.30 L330.80 173.10 L339.60 173.10 L339.60 176.90 L355.80 176.90 L355.80 180.80 L362.50 180.80 L362.50 184.60 L388.50 184.60 L388.50 189.40 L404.80 189.40 L404.80 193.30 L451.20 193.30 L451.20 197.60" fill="none" stroke="#bb2a52" stroke-width="1.0" stroke-linejoin="miter"/>
<path d="M290.00 52.00 L292.90 52.00 L292.90 54.30 L297.00 54.30 L297.00 56.10 L298.50 56.10 L298.50 57.20 L300.00 57.20 L300.00 59.50 L301.20 59.50 L301.20 63.20 L305.00 63.20 L305.00 64.70 L307.00 64.70 L307.00 65.50 L309.20 65.50 L309.20 66.80 L310.30 66.80 L310.30 69.30 L312.00 69.30 L312.00 72.20 L313.20 72.20 L313.20 74.50 L314.30 74.50 L314.30 80.60 L315.00 80.60 L315.00 82.30 L317.50 82.30 L317.50 84.30 L319.50 84.30 L319.50 85.80 L321.80 85.80 L321.80 87.80 L324.10 87.80 L324.10 89.60 L326.40 89.60 L326.40 90.90 L329.30 90.90 L329.30 92.80 L331.60 92.80 L331.60 94.40 L334.50 94.40 L334.50 97.30 L335.60 97.30 L335.60 100.00 L336.30 100.00 L336.30 103.10 L337.50 103.10 L337.50 106.00 L349.00 106.00 L349.00 108.70 L351.00 108.70 L351.00 109.60 L354.00 109.60 L354.00 112.50 L357.00 112.50 L357.00 115.40 L360.00 115.40 L360.00 119.20 L362.00 119.20 L362.00 120.20 L366.50 120.20 L366.50 122.10 L375.50 122.10 L375.50 124.40 L394.40 124.40 L394.40 126.90 L398.20 126.90 L398.20 129.70 L403.60 129.70 L403.60 133.80 L441.90 133.80 L441.90 141.40 L496.30 141.40" fill="none" stroke="#1e3d70" stroke-width="1.0" stroke-linejoin="miter"/>
<line x1="383.80" y1="122.80" x2="383.80" y2="126.00" stroke="#1e3d70" stroke-width="0.9"/>
<line x1="388.50" y1="122.80" x2="388.50" y2="126.00" stroke="#1e3d70" stroke-width="0.9"/>
<line x1="389.50" y1="122.80" x2="389.50" y2="126.00" stroke="#1e3d70" stroke-width="0.9"/>
<line x1="393.80" y1="122.80" x2="393.80" y2="126.00" stroke="#1e3d70" stroke-width="0.9"/>
<line x1="411.50" y1="132.20" x2="411.50" y2="135.40" stroke="#1e3d70" stroke-width="0.9"/>
<line x1="417.70" y1="132.20" x2="417.70" y2="135.40" stroke="#1e3d70" stroke-width="0.9"/>
<line x1="419.20" y1="132.20" x2="419.20" y2="135.40" stroke="#1e3d70" stroke-width="0.9"/>
<line x1="420.80" y1="132.20" x2="420.80" y2="135.40" stroke="#1e3d70" stroke-width="0.9"/>
<line x1="423.00" y1="132.20" x2="423.00" y2="135.40" stroke="#1e3d70" stroke-width="0.9"/>
<line x1="425.40" y1="132.20" x2="425.40" y2="135.40" stroke="#1e3d70" stroke-width="0.9"/>
<line x1="432.30" y1="132.20" x2="432.30" y2="135.40" stroke="#1e3d70" stroke-width="0.9"/>
<line x1="463.50" y1="139.80" x2="463.50" y2="143.00" stroke="#1e3d70" stroke-width="0.9"/>
<line x1="467.50" y1="139.80" x2="467.50" y2="143.00" stroke="#1e3d70" stroke-width="0.9"/>
<line x1="472.90" y1="139.80" x2="472.90" y2="143.00" stroke="#1e3d70" stroke-width="0.9"/>
<line x1="476.40" y1="139.80" x2="476.40" y2="143.00" stroke="#1e3d70" stroke-width="0.9"/>
<line x1="362.50" y1="162.80" x2="362.50" y2="166.00" stroke="#5aab6a" stroke-width="0.9"/>
<line x1="404.20" y1="171.30" x2="404.20" y2="174.50" stroke="#5aab6a" stroke-width="0.9"/>
<text x="288.30" y="231.80" font-size="6.4" textLength="38.5" lengthAdjust="spacingAndGlyphs" stroke="#333" stroke-width="0.06">Number at risk</text>
<rect x="278.6" y="238.10" width="5.0" height="2.4" fill="#13315f"/>
<text x="290.00" y="241.70" font-size="6.6" text-anchor="middle" stroke="#333" stroke-width="0.06">74</text>
<text x="312.92" y="241.70" font-size="6.6" text-anchor="middle" stroke="#333" stroke-width="0.06">54</text>
<text x="335.84" y="241.70" font-size="6.6" text-anchor="middle" stroke="#333" stroke-width="0.06">40</text>
<text x="358.77" y="241.70" font-size="6.6" text-anchor="middle" stroke="#333" stroke-width="0.06">33</text>
<text x="381.69" y="241.70" font-size="6.6" text-anchor="middle" stroke="#333" stroke-width="0.06">28</text>
<text x="404.61" y="241.70" font-size="6.6" text-anchor="middle" stroke="#333" stroke-width="0.06">18</text>
<text x="427.53" y="241.70" font-size="6.6" text-anchor="middle" stroke="#333" stroke-width="0.06">11</text>
<text x="450.46" y="241.70" font-size="6.6" text-anchor="middle" stroke="#333" stroke-width="0.06">8</text>
<text x="473.38" y="241.70" font-size="6.6" text-anchor="middle" stroke="#333" stroke-width="0.06">5</text>
<text x="496.30" y="241.70" font-size="6.6" text-anchor="middle" stroke="#333" stroke-width="0.06">4</text>
<rect x="278.6" y="248.10" width="5.0" height="2.4" fill="#338a3c"/>
<text x="290.00" y="251.70" font-size="6.6" text-anchor="middle" stroke="#333" stroke-width="0.06">31</text>
<text x="312.92" y="251.70" font-size="6.6" text-anchor="middle" stroke="#333" stroke-width="0.06">15</text>
<text x="335.84" y="251.70" font-size="6.6" text-anchor="middle" stroke="#333" stroke-width="0.06">10</text>
<text x="358.77" y="251.70" font-size="6.6" text-anchor="middle" stroke="#333" stroke-width="0.06">5</text>
<text x="381.69" y="251.70" font-size="6.6" text-anchor="middle" stroke="#333" stroke-width="0.06">4</text>
<text x="404.61" y="251.70" font-size="6.6" text-anchor="middle" stroke="#333" stroke-width="0.06">2</text>
<text x="427.53" y="251.70" font-size="6.6" text-anchor="middle" stroke="#333" stroke-width="0.06">2</text>
<text x="450.46" y="251.70" font-size="6.6" text-anchor="middle" stroke="#333" stroke-width="0.06">1</text>
<text x="473.38" y="251.70" font-size="6.6" text-anchor="middle" stroke="#333" stroke-width="0.06">0</text>
<text x="496.30" y="251.70" font-size="6.6" text-anchor="middle" stroke="#333" stroke-width="0.06">0</text>
<rect x="278.6" y="258.10" width="5.0" height="2.4" fill="#a50f2d"/>
<text x="290.00" y="261.70" font-size="6.6" text-anchor="middle" stroke="#333" stroke-width="0.06">54</text>
<text x="312.92" y="261.70" font-size="6.6" text-anchor="middle" stroke="#333" stroke-width="0.06">15</text>
<text x="335.84" y="261.70" font-size="6.6" text-anchor="middle" stroke="#333" stroke-width="0.06">6</text>
<text x="358.77" y="261.70" font-size="6.6" text-anchor="middle" stroke="#333" stroke-width="0.06">4</text>
<text x="381.69" y="261.70" font-size="6.6" text-anchor="middle" stroke="#333" stroke-width="0.06">3</text>
<text x="404.61" y="261.70" font-size="6.6" text-anchor="middle" stroke="#333" stroke-width="0.06">1</text>
<text x="427.53" y="261.70" font-size="6.6" text-anchor="middle" stroke="#333" stroke-width="0.06">1</text>
<text x="450.46" y="261.70" font-size="6.6" text-anchor="middle" stroke="#333" stroke-width="0.06">1</text>
<text x="473.38" y="261.70" font-size="6.6" text-anchor="middle" stroke="#333" stroke-width="0.06">0</text>
<text x="496.30" y="261.70" font-size="6.6" text-anchor="middle" stroke="#333" stroke-width="0.06">0</text>
<line x1="36.50" y1="313.50" x2="36.50" y2="502.60" stroke="#111" stroke-width="1.3"/>
<line x1="35.90" y1="502.00" x2="246.50" y2="502.00" stroke="#111" stroke-width="1.3"/>
<line x1="33.70" y1="502.00" x2="36.50" y2="502.00" stroke="#111" stroke-width="0.9"/>
<line x1="33.70" y1="464.90" x2="36.50" y2="464.90" stroke="#111" stroke-width="0.9"/>
<line x1="33.70" y1="427.80" x2="36.50" y2="427.80" stroke="#111" stroke-width="0.9"/>
<line x1="33.70" y1="390.70" x2="36.50" y2="390.70" stroke="#111" stroke-width="0.9"/>
<line x1="33.70" y1="353.60" x2="36.50" y2="353.60" stroke="#111" stroke-width="0.9"/>
<line x1="33.70" y1="316.50" x2="36.50" y2="316.50" stroke="#111" stroke-width="0.9"/>
<line x1="35.10" y1="483.45" x2="36.50" y2="483.45" stroke="#111" stroke-width="0.8"/>
<line x1="35.10" y1="446.35" x2="36.50" y2="446.35" stroke="#111" stroke-width="0.8"/>
<line x1="35.10" y1="409.25" x2="36.50" y2="409.25" stroke="#111" stroke-width="0.8"/>
<line x1="35.10" y1="372.15" x2="36.50" y2="372.15" stroke="#111" stroke-width="0.8"/>
<line x1="35.10" y1="335.05" x2="36.50" y2="335.05" stroke="#111" stroke-width="0.8"/>
<line x1="36.50" y1="502.00" x2="36.50" y2="504.60" stroke="#111" stroke-width="0.9"/>
<line x1="59.47" y1="502.00" x2="59.47" y2="504.60" stroke="#111" stroke-width="0.9"/>
<line x1="82.43" y1="502.00" x2="82.43" y2="504.60" stroke="#111" stroke-width="0.9"/>
<line x1="105.40" y1="502.00" x2="105.40" y2="504.60" stroke="#111" stroke-width="0.9"/>
<line x1="128.37" y1="502.00" x2="128.37" y2="504.60" stroke="#111" stroke-width="0.9"/>
<line x1="151.33" y1="502.00" x2="151.33" y2="504.60" stroke="#111" stroke-width="0.9"/>
<line x1="174.30" y1="502.00" x2="174.30" y2="504.60" stroke="#111" stroke-width="0.9"/>
<line x1="197.27" y1="502.00" x2="197.27" y2="504.60" stroke="#111" stroke-width="0.9"/>
<line x1="220.23" y1="502.00" x2="220.23" y2="504.60" stroke="#111" stroke-width="0.9"/>
<line x1="243.20" y1="502.00" x2="243.20" y2="504.60" stroke="#111" stroke-width="0.9"/>
<line x1="47.98" y1="502.00" x2="47.98" y2="503.30" stroke="#111" stroke-width="0.8"/>
<line x1="70.95" y1="502.00" x2="70.95" y2="503.30" stroke="#111" stroke-width="0.8"/>
<line x1="93.92" y1="502.00" x2="93.92" y2="503.30" stroke="#111" stroke-width="0.8"/>
<line x1="116.88" y1="502.00" x2="116.88" y2="503.30" stroke="#111" stroke-width="0.8"/>
<line x1="139.85" y1="502.00" x2="139.85" y2="503.30" stroke="#111" stroke-width="0.8"/>
<line x1="162.82" y1="502.00" x2="162.82" y2="503.30" stroke="#111" stroke-width="0.8"/>
<line x1="185.78" y1="502.00" x2="185.78" y2="503.30" stroke="#111" stroke-width="0.8"/>
<line x1="208.75" y1="502.00" x2="208.75" y2="503.30" stroke="#111" stroke-width="0.8"/>
<line x1="231.72" y1="502.00" x2="231.72" y2="503.30" stroke="#111" stroke-width="0.8"/>
<text x="31.20" y="504.24" font-size="6.4" text-anchor="end" fill="#3c3c3c" stroke="#3c3c3c" stroke-width="0.06">0</text>
<text x="31.20" y="467.14" font-size="6.4" text-anchor="end" fill="#3c3c3c" stroke="#3c3c3c" stroke-width="0.06">0.2</text>
<text x="31.20" y="430.04" font-size="6.4" text-anchor="end" fill="#3c3c3c" stroke="#3c3c3c" stroke-width="0.06">0.4</text>
<text x="31.20" y="392.94" font-size="6.4" text-anchor="end" fill="#3c3c3c" stroke="#3c3c3c" stroke-width="0.06">0.6</text>
<text x="31.20" y="355.84" font-size="6.4" text-anchor="end" fill="#3c3c3c" stroke="#3c3c3c" stroke-width="0.06">0.8</text>
<text x="31.20" y="318.74" font-size="6.4" text-anchor="end" fill="#3c3c3c" stroke="#3c3c3c" stroke-width="0.06">1</text>
<text x="36.50" y="514.20" font-size="6.4" text-anchor="middle" fill="#3c3c3c" stroke="#3c3c3c" stroke-width="0.06">0</text>
<text x="59.47" y="514.20" font-size="6.4" text-anchor="middle" fill="#3c3c3c" stroke="#3c3c3c" stroke-width="0.06">6</text>
<text x="82.43" y="514.20" font-size="6.4" text-anchor="middle" fill="#3c3c3c" stroke="#3c3c3c" stroke-width="0.06">12</text>
<text x="105.40" y="514.20" font-size="6.4" text-anchor="middle" fill="#3c3c3c" stroke="#3c3c3c" stroke-width="0.06">18</text>
<text x="128.37" y="514.20" font-size="6.4" text-anchor="middle" fill="#3c3c3c" stroke="#3c3c3c" stroke-width="0.06">24</text>
<text x="151.33" y="514.20" font-size="6.4" text-anchor="middle" fill="#3c3c3c" stroke="#3c3c3c" stroke-width="0.06">30</text>
<text x="174.30" y="514.20" font-size="6.4" text-anchor="middle" fill="#3c3c3c" stroke="#3c3c3c" stroke-width="0.06">36</text>
<text x="197.27" y="514.20" font-size="6.4" text-anchor="middle" fill="#3c3c3c" stroke="#3c3c3c" stroke-width="0.06">42</text>
<text x="220.23" y="514.20" font-size="6.4" text-anchor="middle" fill="#3c3c3c" stroke="#3c3c3c" stroke-width="0.06">48</text>
<text x="243.20" y="514.20" font-size="6.4" text-anchor="middle" fill="#3c3c3c" stroke="#3c3c3c" stroke-width="0.06">54</text>
<text x="141.70" y="300.30" font-size="7.65" text-anchor="middle" fill="#222" stroke="#222" stroke-width="0.06">CI of Relapse by mPRSc</text>
<text x="0.00" y="0.00" font-size="8.4" text-anchor="middle" font-weight="bold" textLength="80.6" lengthAdjust="spacingAndGlyphs" transform="translate(16.8,407.8) rotate(-90)">Cumulative incidence of relapse</text>
<text x="140.70" y="524.60" font-size="8" text-anchor="middle" fill="#222" font-weight="bold" textLength="89" lengthAdjust="spacingAndGlyphs">Time from best response (months)</text>
<text x="42.30" y="310.90" font-size="6.35" stroke="#333" stroke-width="0.06">mPRSc High</text>
<text x="42.30" y="318.70" font-size="6.35" stroke="#333" stroke-width="0.06"><tspan font-style="italic">1-yr</tspan>: 26.2% (+/−11.2)</text>
<text x="42.30" y="326.30" font-size="6.35" stroke="#333" stroke-width="0.06"><tspan font-style="italic">2-yr</tspan>: 35.2% (+/−12.4)</text>
<text x="42.30" y="335.20" font-size="6.35" stroke="#333" stroke-width="0.06">mPRSc Int</text>
<text x="42.30" y="343.00" font-size="6.35" stroke="#333" stroke-width="0.06"><tspan font-style="italic">1-yr</tspan>: 55.4% (+/−25.7)</text>
<text x="42.30" y="350.70" font-size="6.35" stroke="#333" stroke-width="0.06"><tspan font-style="italic">2-yr</tspan>: 69.7% (+/−25.6)</text>
<text x="42.30" y="359.80" font-size="6.35" stroke="#333" stroke-width="0.06">mPRSc Low</text>
<text x="42.30" y="367.50" font-size="6.35" stroke="#333" stroke-width="0.06"><tspan font-style="italic">1-yr</tspan>: 56.2% (+/−18.6)</text>
<text x="42.30" y="375.20" font-size="6.35" stroke="#333" stroke-width="0.06"><tspan font-style="italic">2-yr</tspan>: 59.7% (+/−18.6)</text>
<text x="42.30" y="385.20" font-size="6.35" stroke="#333" stroke-width="0.06"><tspan font-style="italic">P</tspan>-val (relapse): .0052</text>
<text x="183.80" y="454.20" font-size="6.2" stroke="#333" stroke-width="0.06">Relapse</text>
<line x1="171.70" y1="451.50" x2="180.60" y2="451.50" stroke="#111" stroke-width="1.0"/>
<line x1="171.70" y1="473.70" x2="181.40" y2="473.70" stroke="#1e3d70" stroke-width="1.0"/>
<text x="183.80" y="475.90" font-size="6.2" stroke="#333" stroke-width="0.06">mPRSc High benefit</text>
<line x1="171.70" y1="481.10" x2="181.40" y2="481.10" stroke="#5aab6a" stroke-width="1.0"/>
<text x="183.80" y="483.30" font-size="6.2" stroke="#333" stroke-width="0.06">mPRSc Int benefit</text>
<line x1="171.70" y1="488.50" x2="181.40" y2="488.50" stroke="#bb2a52" stroke-width="1.0"/>
<text x="183.80" y="490.70" font-size="6.2" stroke="#333" stroke-width="0.06">mPRSc Low benefit</text>
<path d="M36.60 500.30 L40.60 500.30 L40.60 496.40 L43.30 496.40 L43.30 493.30 L48.40 493.30 L48.40 490.40 L51.00 490.40 L51.00 487.20 L51.60 487.20 L51.60 484.50 L52.20 484.50 L52.20 481.50 L55.50 481.50 L55.20 477.50 L56.50 477.50 L56.50 472.50 L60.50 472.50 L60.50 470.50 L62.30 470.50 L62.30 469.00 L67.30 469.00 L67.30 466.30 L68.50 466.30 L68.50 463.60 L70.00 463.60 L70.00 461.50 L71.50 461.50 L71.50 459.50 L73.00 459.50 L73.00 457.00 L74.50 457.00 L74.50 456.20 L78.00 456.20 L78.00 453.60 L91.50 453.60 L91.50 450.90 L96.00 450.90 L96.00 447.50 L97.50 447.50 L97.50 444.50 L99.20 444.50 L99.20 443.70 L117.00 443.70 L117.00 440.40 L128.00 440.40 L128.00 436.40 L137.20 436.40 L137.20 432.90 L168.20 432.90 L168.20 425.60 L243.30 425.60" fill="none" stroke="#1e3d70" stroke-width="1.0" stroke-linejoin="miter"/>
<path d="M36.60 500.30 L41.20 500.30 L41.20 480.00 L42.60 480.00 L42.60 469.00 L46.60 469.00 L46.60 458.60 L61.40 458.60 L61.40 446.40 L69.80 446.40 L69.80 434.00 L71.80 434.00 L71.80 423.50 L80.50 423.50 L80.50 411.00 L81.50 411.00 L81.50 405.20 L82.50 405.20 L82.50 399.40 L91.70 399.40 L91.70 388.00 L126.70 388.00 L126.70 372.80 L184.00 372.80 L184.00 350.80 L206.40 350.80" fill="none" stroke="#5aab6a" stroke-width="1.0" stroke-linejoin="miter"/>
<path d="M36.60 500.30 L40.60 500.30 L40.60 471.50 L41.90 471.50 L41.90 466.30 L46.40 466.30 L46.40 458.90 L49.90 458.90 L49.90 442.40 L58.60 442.40 L58.60 436.50 L63.30 436.50 L63.30 431.20 L65.10 431.20 L65.10 427.30 L66.50 427.30 L66.50 423.50 L68.60 423.50 L68.60 417.70 L71.60 417.70 L71.60 410.00 L72.60 410.00 L72.60 404.20 L79.60 404.20 L79.60 397.50 L105.40 397.50 L105.40 391.00 L142.50 391.00 L142.50 384.40 L173.80 384.40 L173.80 378.50" fill="none" stroke="#bb2a52" stroke-width="1.0" stroke-linejoin="miter"/>
<text x="35.00" y="536.40" font-size="6.4" textLength="39.0" lengthAdjust="spacingAndGlyphs" stroke="#333" stroke-width="0.06">Number at risk</text>
<rect x="24.8" y="542.30" width="5.2" height="2.4" fill="#13315f"/>
<text x="36.50" y="545.90" font-size="6.6" text-anchor="middle" stroke="#333" stroke-width="0.06">64</text>
<text x="59.47" y="545.90" font-size="6.6" text-anchor="middle" stroke="#333" stroke-width="0.06">47</text>
<text x="82.43" y="545.90" font-size="6.6" text-anchor="middle" stroke="#333" stroke-width="0.06">36</text>
<text x="105.40" y="545.90" font-size="6.6" text-anchor="middle" stroke="#333" stroke-width="0.06">30</text>
<text x="128.37" y="545.90" font-size="6.6" text-anchor="middle" stroke="#333" stroke-width="0.06">24</text>
<text x="151.33" y="545.90" font-size="6.6" text-anchor="middle" stroke="#333" stroke-width="0.06">18</text>
<text x="174.30" y="545.90" font-size="6.6" text-anchor="middle" stroke="#333" stroke-width="0.06">9</text>
<text x="197.27" y="545.90" font-size="6.6" text-anchor="middle" stroke="#333" stroke-width="0.06">8</text>
<text x="220.23" y="545.90" font-size="6.6" text-anchor="middle" stroke="#333" stroke-width="0.06">4</text>
<text x="243.20" y="545.90" font-size="6.6" text-anchor="middle" stroke="#333" stroke-width="0.06">4</text>
<rect x="24.8" y="552.40" width="5.2" height="2.4" fill="#338a3c"/>
<text x="36.50" y="556.00" font-size="6.6" text-anchor="middle" stroke="#333" stroke-width="0.06">17</text>
<text x="59.47" y="556.00" font-size="6.6" text-anchor="middle" stroke="#333" stroke-width="0.06">13</text>
<text x="82.43" y="556.00" font-size="6.6" text-anchor="middle" stroke="#333" stroke-width="0.06">6</text>
<text x="105.40" y="556.00" font-size="6.6" text-anchor="middle" stroke="#333" stroke-width="0.06">4</text>
<text x="128.37" y="556.00" font-size="6.6" text-anchor="middle" stroke="#333" stroke-width="0.06">3</text>
<text x="151.33" y="556.00" font-size="6.6" text-anchor="middle" stroke="#333" stroke-width="0.06">2</text>
<text x="174.30" y="556.00" font-size="6.6" text-anchor="middle" stroke="#333" stroke-width="0.06">2</text>
<text x="197.27" y="556.00" font-size="6.6" text-anchor="middle" stroke="#333" stroke-width="0.06">1</text>
<text x="220.23" y="556.00" font-size="6.6" text-anchor="middle" stroke="#333" stroke-width="0.06">0</text>
<text x="243.20" y="556.00" font-size="6.6" text-anchor="middle" stroke="#333" stroke-width="0.06">0</text>
<rect x="24.8" y="562.50" width="5.2" height="2.4" fill="#a50f2d"/>
<text x="36.50" y="566.10" font-size="6.6" text-anchor="middle" stroke="#333" stroke-width="0.06">32</text>
<text x="59.47" y="566.10" font-size="6.6" text-anchor="middle" stroke="#333" stroke-width="0.06">14</text>
<text x="82.43" y="566.10" font-size="6.6" text-anchor="middle" stroke="#333" stroke-width="0.06">5</text>
<text x="105.40" y="566.10" font-size="6.6" text-anchor="middle" stroke="#333" stroke-width="0.06">3</text>
<text x="128.37" y="566.10" font-size="6.6" text-anchor="middle" stroke="#333" stroke-width="0.06">2</text>
<text x="151.33" y="566.10" font-size="6.6" text-anchor="middle" stroke="#333" stroke-width="0.06">1</text>
<text x="174.30" y="566.10" font-size="6.6" text-anchor="middle" stroke="#333" stroke-width="0.06">0</text>
<text x="197.27" y="566.10" font-size="6.6" text-anchor="middle" stroke="#333" stroke-width="0.06">0</text>
<text x="220.23" y="566.10" font-size="6.6" text-anchor="middle" stroke="#333" stroke-width="0.06">0</text>
<text x="243.20" y="566.10" font-size="6.6" text-anchor="middle" stroke="#333" stroke-width="0.06">0</text>
<line x1="291.50" y1="313.00" x2="291.50" y2="502.10" stroke="#111" stroke-width="1.3"/>
<line x1="290.90" y1="501.50" x2="501.20" y2="501.50" stroke="#111" stroke-width="1.3"/>
<line x1="288.70" y1="501.50" x2="291.50" y2="501.50" stroke="#111" stroke-width="0.9"/>
<line x1="288.70" y1="464.44" x2="291.50" y2="464.44" stroke="#111" stroke-width="0.9"/>
<line x1="288.70" y1="427.38" x2="291.50" y2="427.38" stroke="#111" stroke-width="0.9"/>
<line x1="288.70" y1="390.32" x2="291.50" y2="390.32" stroke="#111" stroke-width="0.9"/>
<line x1="288.70" y1="353.26" x2="291.50" y2="353.26" stroke="#111" stroke-width="0.9"/>
<line x1="288.70" y1="316.20" x2="291.50" y2="316.20" stroke="#111" stroke-width="0.9"/>
<line x1="290.10" y1="482.97" x2="291.50" y2="482.97" stroke="#111" stroke-width="0.8"/>
<line x1="290.10" y1="445.91" x2="291.50" y2="445.91" stroke="#111" stroke-width="0.8"/>
<line x1="290.10" y1="408.85" x2="291.50" y2="408.85" stroke="#111" stroke-width="0.8"/>
<line x1="290.10" y1="371.79" x2="291.50" y2="371.79" stroke="#111" stroke-width="0.8"/>
<line x1="290.10" y1="334.73" x2="291.50" y2="334.73" stroke="#111" stroke-width="0.8"/>
<line x1="291.50" y1="501.50" x2="291.50" y2="504.10" stroke="#111" stroke-width="0.9"/>
<line x1="314.52" y1="501.50" x2="314.52" y2="504.10" stroke="#111" stroke-width="0.9"/>
<line x1="337.54" y1="501.50" x2="337.54" y2="504.10" stroke="#111" stroke-width="0.9"/>
<line x1="360.57" y1="501.50" x2="360.57" y2="504.10" stroke="#111" stroke-width="0.9"/>
<line x1="383.59" y1="501.50" x2="383.59" y2="504.10" stroke="#111" stroke-width="0.9"/>
<line x1="406.61" y1="501.50" x2="406.61" y2="504.10" stroke="#111" stroke-width="0.9"/>
<line x1="429.63" y1="501.50" x2="429.63" y2="504.10" stroke="#111" stroke-width="0.9"/>
<line x1="452.66" y1="501.50" x2="452.66" y2="504.10" stroke="#111" stroke-width="0.9"/>
<line x1="475.68" y1="501.50" x2="475.68" y2="504.10" stroke="#111" stroke-width="0.9"/>
<line x1="498.70" y1="501.50" x2="498.70" y2="504.10" stroke="#111" stroke-width="0.9"/>
<line x1="303.01" y1="501.50" x2="303.01" y2="502.80" stroke="#111" stroke-width="0.8"/>
<line x1="326.03" y1="501.50" x2="326.03" y2="502.80" stroke="#111" stroke-width="0.8"/>
<line x1="349.06" y1="501.50" x2="349.06" y2="502.80" stroke="#111" stroke-width="0.8"/>
<line x1="372.08" y1="501.50" x2="372.08" y2="502.80" stroke="#111" stroke-width="0.8"/>
<line x1="395.10" y1="501.50" x2="395.10" y2="502.80" stroke="#111" stroke-width="0.8"/>
<line x1="418.12" y1="501.50" x2="418.12" y2="502.80" stroke="#111" stroke-width="0.8"/>
<line x1="441.14" y1="501.50" x2="441.14" y2="502.80" stroke="#111" stroke-width="0.8"/>
<line x1="464.17" y1="501.50" x2="464.17" y2="502.80" stroke="#111" stroke-width="0.8"/>
<line x1="487.19" y1="501.50" x2="487.19" y2="502.80" stroke="#111" stroke-width="0.8"/>
<text x="286.00" y="503.74" font-size="6.4" text-anchor="end" fill="#3c3c3c" stroke="#3c3c3c" stroke-width="0.06">0</text>
<text x="286.00" y="466.68" font-size="6.4" text-anchor="end" fill="#3c3c3c" stroke="#3c3c3c" stroke-width="0.06">0.2</text>
<text x="286.00" y="429.62" font-size="6.4" text-anchor="end" fill="#3c3c3c" stroke="#3c3c3c" stroke-width="0.06">0.4</text>
<text x="286.00" y="392.56" font-size="6.4" text-anchor="end" fill="#3c3c3c" stroke="#3c3c3c" stroke-width="0.06">0.6</text>
<text x="286.00" y="355.50" font-size="6.4" text-anchor="end" fill="#3c3c3c" stroke="#3c3c3c" stroke-width="0.06">0.8</text>
<text x="286.00" y="318.44" font-size="6.4" text-anchor="end" fill="#3c3c3c" stroke="#3c3c3c" stroke-width="0.06">1</text>
<text x="291.50" y="513.50" font-size="6.4" text-anchor="middle" fill="#3c3c3c" stroke="#3c3c3c" stroke-width="0.06">0</text>
<text x="314.52" y="513.50" font-size="6.4" text-anchor="middle" fill="#3c3c3c" stroke="#3c3c3c" stroke-width="0.06">6</text>
<text x="337.54" y="513.50" font-size="6.4" text-anchor="middle" fill="#3c3c3c" stroke="#3c3c3c" stroke-width="0.06">12</text>
<text x="360.57" y="513.50" font-size="6.4" text-anchor="middle" fill="#3c3c3c" stroke="#3c3c3c" stroke-width="0.06">18</text>
<text x="383.59" y="513.50" font-size="6.4" text-anchor="middle" fill="#3c3c3c" stroke="#3c3c3c" stroke-width="0.06">24</text>
<text x="406.61" y="513.50" font-size="6.4" text-anchor="middle" fill="#3c3c3c" stroke="#3c3c3c" stroke-width="0.06">30</text>
<text x="429.63" y="513.50" font-size="6.4" text-anchor="middle" fill="#3c3c3c" stroke="#3c3c3c" stroke-width="0.06">36</text>
<text x="452.66" y="513.50" font-size="6.4" text-anchor="middle" fill="#3c3c3c" stroke="#3c3c3c" stroke-width="0.06">42</text>
<text x="475.68" y="513.50" font-size="6.4" text-anchor="middle" fill="#3c3c3c" stroke="#3c3c3c" stroke-width="0.06">48</text>
<text x="498.70" y="513.50" font-size="6.4" text-anchor="middle" fill="#3c3c3c" stroke="#3c3c3c" stroke-width="0.06">54</text>
<text x="396.60" y="300.60" font-size="7.65" text-anchor="middle" fill="#222" stroke="#222" stroke-width="0.06">CI of Death by mPRSc</text>
<text x="0.00" y="0.00" font-size="8.4" text-anchor="middle" font-weight="bold" textLength="76.4" lengthAdjust="spacingAndGlyphs" transform="translate(271.4,407.6) rotate(-90)">Cumulative incidence of death</text>
<text x="395.70" y="524.20" font-size="8" text-anchor="middle" fill="#222" font-weight="bold" textLength="88.5" lengthAdjust="spacingAndGlyphs">Time from best response (months)</text>
<text x="300.40" y="310.90" font-size="6.3" stroke="#333" stroke-width="0.06">mPRSc High</text>
<text x="300.40" y="318.40" font-size="6.3" stroke="#333" stroke-width="0.06"><tspan font-style="italic">1-yr</tspan>: 13% (+/−8.5)</text>
<text x="300.40" y="326.20" font-size="6.3" stroke="#333" stroke-width="0.06"><tspan font-style="italic">2-yr</tspan>: 18.3% (+/−10)</text>
<text x="300.40" y="335.10" font-size="6.3" stroke="#333" stroke-width="0.06">mPRSc Int</text>
<text x="300.40" y="342.60" font-size="6.3" stroke="#333" stroke-width="0.06"><tspan font-style="italic">1-yr</tspan>: 6.4% (+/−12.8)</text>
<text x="300.40" y="350.40" font-size="6.3" stroke="#333" stroke-width="0.06"><tspan font-style="italic">2-yr</tspan>: 6.4% (+/−12.8)</text>
<text x="300.40" y="359.90" font-size="6.3" stroke="#333" stroke-width="0.06">mPRSc Low</text>
<text x="300.40" y="367.40" font-size="6.3" stroke="#333" stroke-width="0.06"><tspan font-style="italic">1-yr</tspan>: 26.3% (+/−16.2)</text>
<text x="300.40" y="374.90" font-size="6.3" stroke="#333" stroke-width="0.06"><tspan font-style="italic">2-yr</tspan>: 33.3% (+/−18)</text>
<text x="300.40" y="384.40" font-size="6.3" stroke="#333" stroke-width="0.06"><tspan font-style="italic">P</tspan>-val (death): .0945</text>
<text x="433.50" y="335.90" font-size="6.2" stroke="#333" stroke-width="0.06">Death</text>
<line x1="421.30" y1="333.50" x2="430.70" y2="333.50" stroke="#111" stroke-width="1.0"/>
<line x1="421.30" y1="362.00" x2="430.70" y2="362.00" stroke="#1e3d70" stroke-width="1.0"/>
<text x="433.50" y="364.20" font-size="6.2" stroke="#333" stroke-width="0.06">mPRSc High benefit</text>
<line x1="421.30" y1="369.45" x2="430.70" y2="369.45" stroke="#5aab6a" stroke-width="1.0"/>
<text x="433.50" y="371.65" font-size="6.2" stroke="#333" stroke-width="0.06">mPRSc Int benefit</text>
<line x1="421.30" y1="376.90" x2="430.70" y2="376.90" stroke="#bb2a52" stroke-width="1.0"/>
<text x="433.50" y="379.10" font-size="6.2" stroke="#333" stroke-width="0.06">mPRSc Low benefit</text>
<path d="M330.10 501.50 L330.10 489.40 L461.20 489.40 L461.20 467.30" fill="none" stroke="#5aab6a" stroke-width="1.0" stroke-linejoin="miter"/>
<path d="M291.50 501.50 L294.40 501.50 L294.40 498.50 L297.80 498.50 L297.80 492.60 L308.50 492.60 L308.50 489.60 L316.50 489.60 L316.50 483.60 L327.30 483.60 L327.30 480.50 L331.50 480.50 L331.50 477.20 L353.70 477.20 L353.70 474.20 L361.60 474.20 L361.60 471.40 L364.00 471.40 L364.00 469.80 L365.30 469.80 L365.30 467.30 L498.20 467.30" fill="none" stroke="#1e3d70" stroke-width="1.0" stroke-linejoin="miter"/>
<path d="M291.90 501.50 L291.90 489.40 L297.20 489.40 L297.20 480.00 L297.80 480.00 L297.80 471.60 L303.30 471.60 L303.30 465.80 L321.30 465.80 L321.30 459.40 L322.20 459.40 L322.20 452.80 L351.40 452.80 L351.40 446.40 L361.30 446.40 L361.30 439.80 L427.90 439.80" fill="none" stroke="#bb2a52" stroke-width="1.0" stroke-linejoin="miter"/>
<text x="289.60" y="535.30" font-size="6.4" textLength="39.4" lengthAdjust="spacingAndGlyphs" stroke="#333" stroke-width="0.06">Number at risk</text>
<rect x="278.8" y="542.00" width="5.0" height="2.4" fill="#13315f"/>
<text x="291.50" y="545.60" font-size="6.6" text-anchor="middle" stroke="#333" stroke-width="0.06">64</text>
<text x="314.52" y="545.60" font-size="6.6" text-anchor="middle" stroke="#333" stroke-width="0.06">47</text>
<text x="337.54" y="545.60" font-size="6.6" text-anchor="middle" stroke="#333" stroke-width="0.06">36</text>
<text x="360.57" y="545.60" font-size="6.6" text-anchor="middle" stroke="#333" stroke-width="0.06">30</text>
<text x="383.59" y="545.60" font-size="6.6" text-anchor="middle" stroke="#333" stroke-width="0.06">24</text>
<text x="406.61" y="545.60" font-size="6.6" text-anchor="middle" stroke="#333" stroke-width="0.06">18</text>
<text x="429.63" y="545.60" font-size="6.6" text-anchor="middle" stroke="#333" stroke-width="0.06">9</text>
<text x="452.66" y="545.60" font-size="6.6" text-anchor="middle" stroke="#333" stroke-width="0.06">8</text>
<text x="475.68" y="545.60" font-size="6.6" text-anchor="middle" stroke="#333" stroke-width="0.06">4</text>
<text x="498.70" y="545.60" font-size="6.6" text-anchor="middle" stroke="#333" stroke-width="0.06">4</text>
<rect x="278.8" y="552.00" width="5.0" height="2.4" fill="#338a3c"/>
<text x="291.50" y="555.60" font-size="6.6" text-anchor="middle" stroke="#333" stroke-width="0.06">17</text>
<text x="314.52" y="555.60" font-size="6.6" text-anchor="middle" stroke="#333" stroke-width="0.06">13</text>
<text x="337.54" y="555.60" font-size="6.6" text-anchor="middle" stroke="#333" stroke-width="0.06">6</text>
<text x="360.57" y="555.60" font-size="6.6" text-anchor="middle" stroke="#333" stroke-width="0.06">4</text>
<text x="383.59" y="555.60" font-size="6.6" text-anchor="middle" stroke="#333" stroke-width="0.06">3</text>
<text x="406.61" y="555.60" font-size="6.6" text-anchor="middle" stroke="#333" stroke-width="0.06">2</text>
<text x="429.63" y="555.60" font-size="6.6" text-anchor="middle" stroke="#333" stroke-width="0.06">2</text>
<text x="452.66" y="555.60" font-size="6.6" text-anchor="middle" stroke="#333" stroke-width="0.06">1</text>
<text x="475.68" y="555.60" font-size="6.6" text-anchor="middle" stroke="#333" stroke-width="0.06">0</text>
<text x="498.70" y="555.60" font-size="6.6" text-anchor="middle" stroke="#333" stroke-width="0.06">0</text>
<rect x="278.8" y="562.00" width="5.0" height="2.4" fill="#a50f2d"/>
<text x="291.50" y="565.60" font-size="6.6" text-anchor="middle" stroke="#333" stroke-width="0.06">32</text>
<text x="314.52" y="565.60" font-size="6.6" text-anchor="middle" stroke="#333" stroke-width="0.06">14</text>
<text x="337.54" y="565.60" font-size="6.6" text-anchor="middle" stroke="#333" stroke-width="0.06">5</text>
<text x="360.57" y="565.60" font-size="6.6" text-anchor="middle" stroke="#333" stroke-width="0.06">3</text>
<text x="383.59" y="565.60" font-size="6.6" text-anchor="middle" stroke="#333" stroke-width="0.06">2</text>
<text x="406.61" y="565.60" font-size="6.6" text-anchor="middle" stroke="#333" stroke-width="0.06">1</text>
<text x="429.63" y="565.60" font-size="6.6" text-anchor="middle" stroke="#333" stroke-width="0.06">0</text>
<text x="452.66" y="565.60" font-size="6.6" text-anchor="middle" stroke="#333" stroke-width="0.06">0</text>
<text x="475.68" y="565.60" font-size="6.6" text-anchor="middle" stroke="#333" stroke-width="0.06">0</text>
<text x="498.70" y="565.60" font-size="6.6" text-anchor="middle" stroke="#333" stroke-width="0.06">0</text>
</g>
</svg>
</body></html>
